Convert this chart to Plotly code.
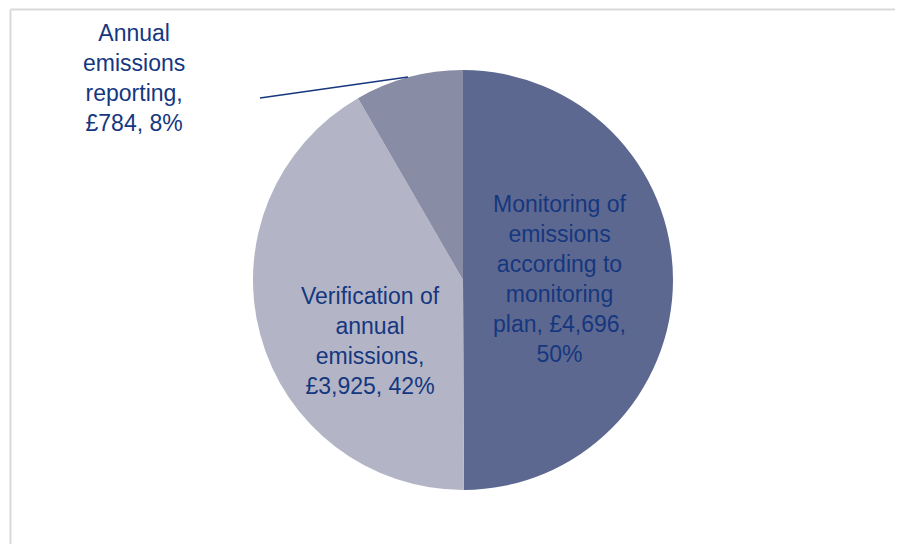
import plotly.graph_objects as go

# Data
categories = [
    "Monitoring of emissions according to monitoring plan",
    "Verification of annual emissions",
    "Annual emissions reporting",
]
values = [4696, 3925, 784]
percent_labels = ["50%", "42%", "8%"]
label_lines = [
    ["Monitoring of", "emissions", "according to", "monitoring", "plan, £{v:,},", "{p}"],
    ["Verification of", "annual", "emissions,", "£{v:,}, {p}"],
    ["Annual", "emissions", "reporting,", "£{v:,}, {p}"],
]
colors = ["#5d6890", "#b3b5c6", "#888ca5"]

text_color = "#15377f"
W, H = 903, 544
OFF = 8  # page body margin offset


def px_x(x):
    return (x - OFF) / W


def px_y(y):
    return 1 - (y - OFF) / H


fig = go.Figure(
    go.Pie(
        labels=categories,
        values=values,
        sort=False,
        direction="clockwise",
        rotation=0,
        marker=dict(colors=colors, line=dict(width=0)),
        textinfo="none",
        hoverinfo="label+value+percent",
        showlegend=False,
        domain=dict(x=[px_x(253), px_x(673)], y=[px_y(490), px_y(70)]),
    )
)

# label positions (pixel centers) for each slice
label_pos = [(560, 279), (370, 341), (134, 78)]
annotations = []
for lines, v, p, (px, py) in zip(label_lines, values, percent_labels, label_pos):
    txt = "<br>".join(l.format(v=v, p=p) for l in lines)
    annotations.append(
        dict(
            x=px_x(px), y=px_y(py), xref="paper", yref="paper",
            text=txt, showarrow=False, xanchor="center", yanchor="middle",
            align="center",
            font=dict(family="Liberation Sans, Arial, sans-serif", size=23, color=text_color),
        )
    )

shapes = [
    # chart frame (light grey)
    dict(type="line", xref="paper", yref="paper", x0=px_x(10.5), x1=1.0, y0=px_y(9.5), y1=px_y(9.5),
         line=dict(color="#d9d9d9", width=2)),
    dict(type="line", xref="paper", yref="paper", x0=px_x(10.5), x1=px_x(10.5), y0=px_y(9.5), y1=0,
         line=dict(color="#d9d9d9", width=2)),
    # leader line for small slice
    dict(type="line", xref="paper", yref="paper", x0=px_x(260), y0=px_y(98), x1=px_x(408), y1=px_y(77),
         line=dict(color=text_color, width=1.5)),
]

fig.update_layout(
    width=W, height=H,
    margin=dict(l=0, r=0, t=0, b=0),
    paper_bgcolor="white",
    plot_bgcolor="white",
    annotations=annotations,
    shapes=shapes,
)

fig.write_html("out.html")
